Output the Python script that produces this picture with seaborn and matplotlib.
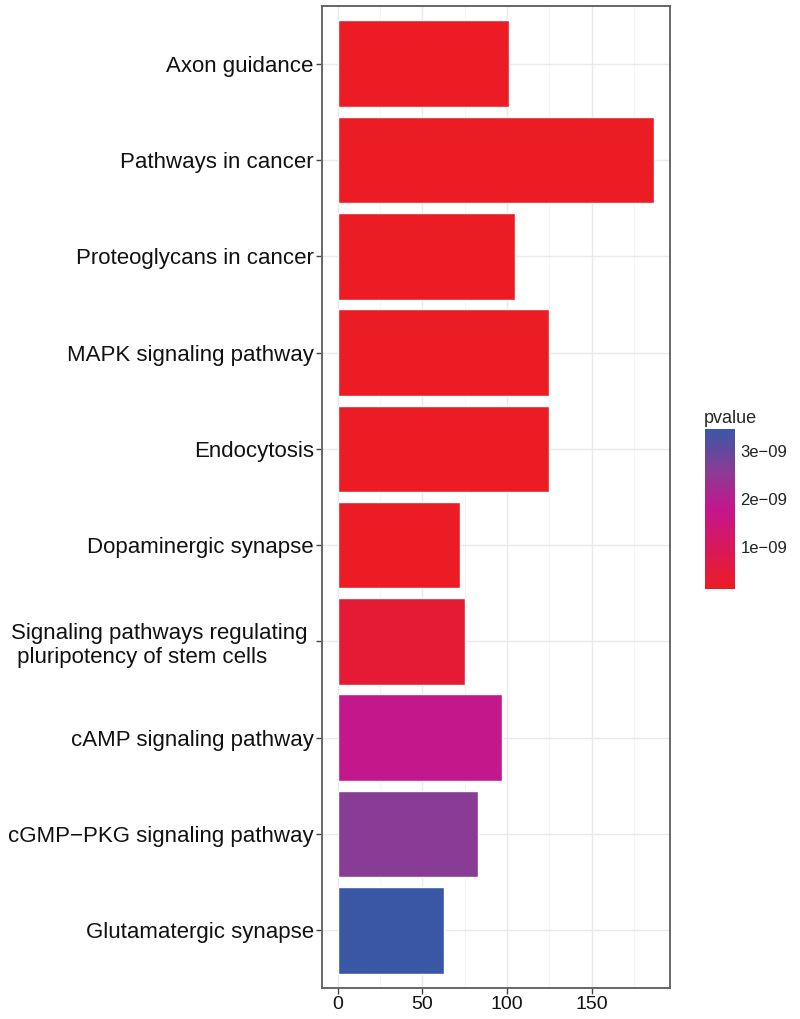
import matplotlib
matplotlib.use("Agg")
import matplotlib.pyplot as plt
import matplotlib.colors as mcolors
from matplotlib.ticker import MultipleLocator, FuncFormatter
import seaborn as sns
import pandas as pd
import numpy as np

# KEGG terms (top -> bottom)
terms = ["Axon guidance",
         "Pathways in cancer",
         "Proteoglycans in cancer",
         "MAPK signaling pathway",
         "Endocytosis",
         "Dopaminergic synapse",
         "Signaling pathways regulating \n pluripotency of stem cells",
         "cAMP signaling pathway",
         "cGMP\u2212PKG signaling pathway",
         "Glutamatergic synapse"]
counts = [101, 187, 105, 125, 125, 72, 75, 97, 83, 63]
pvalues = [1.2e-10, 1.2e-10, 1.3e-10, 1.2e-10, 1.3e-10, 1.4e-10, 4.0e-10, 1.8e-9, 2.6e-9, 3.45e-9]
cbar_ticks = [1e-9, 2e-9, 3e-9]

df = pd.DataFrame({"term": terms, "count": counts, "pvalue": pvalues})

# red -> blue like the original picture
cmap = mcolors.LinearSegmentedColormap.from_list(
    "pv", [(0.0, "#EC1C24"), (0.5, "#C4168C"), (0.75, "#873D96"), (1.0, "#3A57A6")])
norm = mcolors.Normalize(vmin=min(pvalues), vmax=max(pvalues))

sns.set_theme(style="white")
plt.rcParams["font.family"] = ["Liberation Sans", "DejaVu Sans"]

fig = plt.figure(figsize=(8, 10.19), dpi=100)
ax = fig.add_axes([322 / 800, 1 - 988 / 1019, 348 / 800, 982 / 1019])

sns.barplot(data=df, y="term", x="count", hue="pvalue", palette=cmap, hue_norm=norm,
            order=terms, dodge=False, legend=False, width=0.9, saturation=1,
            orient="h", ax=ax, zorder=3)

ax.set_xlim(-9.35, 196.35)
ax.set_ylim(len(terms) - 0.4, -0.6)
ax.xaxis.set_major_locator(MultipleLocator(50))
ax.xaxis.set_minor_locator(MultipleLocator(25))
ax.grid(True, which="major", color="#E6EAEE", lw=1.0, zorder=0)
ax.grid(True, which="minor", axis="x", color="#F2F4F6", lw=0.8, zorder=0)
ax.set_axisbelow(True)
ax.set_xlabel("")
ax.set_ylabel("")
for s in ax.spines.values():
    s.set_color("#666666")
    s.set_linewidth(1.4)
ax.tick_params(axis="y", which="major", left=True, length=4, width=1, color="#444444",
               labelsize=16, labelcolor="#111111", pad=2)
ax.tick_params(axis="x", which="major", bottom=True, length=4, width=1, color="#444444",
               labelsize=14, labelcolor="#111111", pad=2)
ax.tick_params(axis="x", which="minor", bottom=False)
for lab in ax.get_yticklabels():
    lab.set_multialignment("left")

# colour bar
cax = fig.add_axes([705 / 800, 1 - 589 / 1019, 30 / 800, 160 / 1019])
sm = plt.cm.ScalarMappable(cmap=cmap, norm=norm)
cb = fig.colorbar(sm, cax=cax)
cb.outline.set_visible(False)
cb.set_ticks(cbar_ticks)
cb.ax.yaxis.set_major_formatter(FuncFormatter(lambda v, p: f"{v:.0e}".replace("-", "\u2212")))
cax.tick_params(axis="y", direction="in", left=True, right=True, length=5, width=1,
                color="white", labelsize=12, labelcolor="#222222", pad=4)
cax.set_title("pvalue", fontsize=13, loc="left", pad=4, x=-0.05)

fig.savefig("out.png", dpi=100, facecolor="white")
